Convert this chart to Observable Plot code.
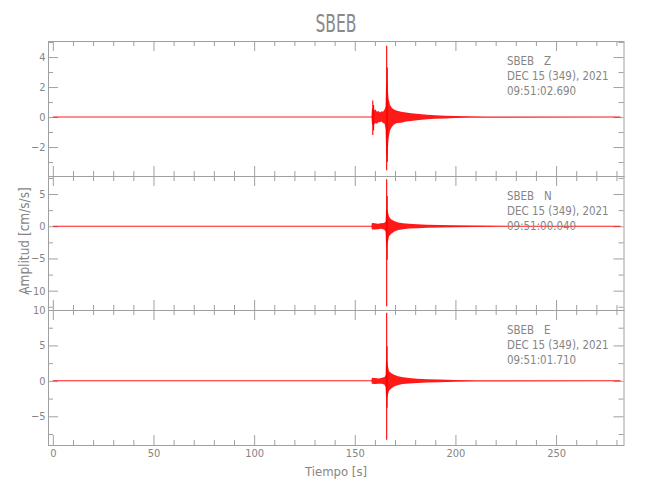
<!DOCTYPE html>
<html><head><meta charset="utf-8">
<script src="https://cdn.jsdelivr.net/npm/d3@7"></script>
<script src="https://cdn.jsdelivr.net/npm/@observablehq/plot@0.6"></script>
<style>
body{margin:0;background:#fff;}
#chart{position:relative;width:650px;height:500px;font-family:"DejaVu Sans Condensed","Liberation Sans Narrow",sans-serif;color:#858585;}
#chart svg{position:absolute;left:0;overflow:visible;}
.t{position:absolute;white-space:pre;}
</style></head><body><div id="chart"></div>
<script>
// ---- data ----
const title = "SBEB";
const xTitle = "Tiempo [s]";
const yTitle = "Amplitud [cm/s/s]";
const xDomain = [-2.4, 283.5];
const xMajor = [0, 50, 100, 150, 200, 250];
const xMinor = [10, 20, 30, 40, 60, 70, 80, 90, 110, 120, 130, 140, 160, 170, 180, 190, 210, 220, 230, 240, 260, 270, 280];

const components = ["Z", "N", "E"];
const dateLine = "DEC 15 (349), 2021";
const startTimes = ["09:51:02.690", "09:51:00.040", "09:51:01.710"];

// Z component envelope
const zT  = [0, 158.3, 158.5, 159.0, 159.6, 160.3, 161.0, 161.8, 162.5, 163.3, 164.0, 164.8, 165.3, 165.6, 166.2, 166.8, 167.5, 168.5, 169.5, 171, 173, 175.5, 178, 182, 186, 190, 195, 200, 207, 215, 282];
const zHi = [0.035, 0.035, 0.5, 0.6, 0.45, 0.5, 0.35, 0.4, 0.3, 0.38, 0.35, 0.5, 0.7, 2.6, 2.2, 1.2, 0.8, 0.6, 0.5, 0.42, 0.35, 0.3, 0.25, 0.2, 0.16, 0.12, 0.09, 0.07, 0.05, 0.04, 0.035];
const zLo = [-0.035, -0.035, -0.45, -0.55, -0.5, -0.4, -0.45, -0.35, -0.35, -0.3, -0.4, -0.45, -0.8, -2.4, -2.6, -1.4, -0.9, -0.65, -0.5, -0.4, -0.38, -0.3, -0.27, -0.2, -0.15, -0.12, -0.09, -0.07, -0.05, -0.04, -0.035];
const zSpikeT  = [158.7, 159.1, 165.6, 165.9];
const zSpikeHi = [1.1, 0.8, 4.75, 3.3];
const zSpikeLo = [-1.2, -0.9, -3.55, -3.0];

// N component envelope
const nT  = [0, 158.3, 158.5, 160, 161.5, 163, 164.5, 165.3, 165.6, 166.3, 167, 168, 169.5, 171.5, 174, 177, 181, 186, 192, 200, 210, 282];
const nHi = [0.08, 0.08, 0.5, 0.45, 0.4, 0.45, 0.5, 0.7, 3.0, 2.4, 1.5, 1.1, 0.8, 0.6, 0.45, 0.38, 0.3, 0.24, 0.18, 0.14, 0.1, 0.08];
const nLo = [-0.08, -0.08, -0.5, -0.5, -0.45, -0.4, -0.5, -0.8, -3.3, -2.6, -1.6, -1.2, -0.85, -0.6, -0.45, -0.36, -0.3, -0.24, -0.18, -0.14, -0.1, -0.08];
const nSpikeT  = [165.6, 165.85];
const nSpikeHi = [7.3, 4.7];
const nSpikeLo = [-12.4, -5.2];

// E component envelope
const eT  = [0, 158.3, 158.5, 160, 162, 163.5, 164.8, 165.3, 165.6, 166.2, 167, 168, 169.5, 171.5, 174, 177, 181, 186, 192, 200, 210, 282];
const eHi = [0.07, 0.07, 0.45, 0.4, 0.35, 0.45, 0.55, 0.8, 3.5, 2.5, 1.4, 1.1, 0.85, 0.65, 0.5, 0.4, 0.3, 0.24, 0.18, 0.13, 0.09, 0.07];
const eLo = [-0.07, -0.07, -0.4, -0.45, -0.4, -0.4, -0.55, -0.9, -2.8, -2.2, -1.4, -1.1, -0.8, -0.6, -0.45, -0.38, -0.3, -0.24, -0.18, -0.13, -0.09, -0.07];
const eSpikeT  = [165.6, 165.8];
const eSpikeHi = [9.6, 4.9];
const eSpikeLo = [-8.3, -3.8];

// y axes
const zYDomain = [-3.93, 5.07], zYMajor = [-2, 0, 2, 4], zYMinor = [-3, -1, 1, 3, 5];
const nYDomain = [-13.0, 7.8], nYMajor = [-10, -5, 0, 5], nYMinor = [-12.5, -7.5, -2.5, 2.5, 7.5];
const eYDomain = [-9.05, 10.0], eYMajor = [-5, 0, 5, 10], eYMinor = [-7.5, -2.5, 2.5, 7.5];

// ---- drawing ----
const RED = "#ff0000", FR = "#a0a0a0";
const W = 650, ML = 48, MR = 26.5, IW = W - ML - MR;
const chart = document.getElementById("chart");
const zip = (t, hi, lo) => t.map((v, i) => ({t: v, hi: hi[i], lo: lo[i]}));

const panels = [
  {top: 41, ih: 135, env: zip(zT, zHi, zLo), spikes: zip(zSpikeT, zSpikeHi, zSpikeLo), yd: zYDomain, yM: zYMajor, ym: zYMinor},
  {top: 176, ih: 134, env: zip(nT, nHi, nLo), spikes: zip(nSpikeT, nSpikeHi, nSpikeLo), yd: nYDomain, yM: nYMajor, ym: nYMinor},
  {top: 310, ih: 135, env: zip(eT, eHi, eLo), spikes: zip(eSpikeT, eSpikeHi, eSpikeLo), yd: eYDomain, yM: eYMajor, ym: eYMinor, last: true}
];

panels.forEach((p, i) => {
  const mt = 15, mb = p.last ? 40 : 15;
  const svg = Plot.plot({
    width: W, height: p.ih + mt + mb,
    marginLeft: ML, marginRight: MR, marginTop: mt, marginBottom: mb,
    x: {domain: xDomain, axis: null},
    y: {domain: p.yd, axis: null},
    style: {background: "transparent", color: "#858585", fontSize: "11px", fontFamily: "'DejaVu Sans Condensed','Liberation Sans Narrow',sans-serif"},
    marks: [
      Plot.ruleX(xMajor, {x: d => d, insetBottom: p.ih - 10, stroke: FR}),
      Plot.ruleX(xMajor, {x: d => d, insetTop: p.ih - 10, stroke: FR}),
      Plot.ruleX(xMinor, {x: d => d, insetBottom: p.ih - 5, stroke: FR}),
      Plot.ruleX(xMinor, {x: d => d, insetTop: p.ih - 5, stroke: FR}),
      Plot.ruleY(p.yM, {y: d => d, insetRight: IW - 10, stroke: FR}),
      Plot.ruleY(p.yM, {y: d => d, insetLeft: IW - 10, stroke: FR}),
      Plot.ruleY(p.ym, {y: d => d, insetRight: IW - 5, stroke: FR}),
      Plot.ruleY(p.ym, {y: d => d, insetLeft: IW - 5, stroke: FR}),
      Plot.areaY(p.env, {x: "t", y1: "lo", y2: "hi", fill: RED, fillOpacity: 0.9}),
      Plot.ruleX(p.spikes, {x: "t", y1: "lo", y2: "hi", stroke: RED, strokeWidth: 1.1}),
      Plot.frame({stroke: FR}),
      Plot.axisY(p.yM, {tickSize: 0, tickPadding: 3, label: null}),
      p.last ? Plot.axisX(xMajor, {tickSize: 0, tickPadding: 4, label: null}) : null
    ]
  });
  svg.style.top = (p.top - mt) + "px";
  chart.appendChild(svg);

  const ann = document.createElement("div");
  ann.className = "t";
  ann.style.cssText = `left:507px;top:${p.top + 12}px;font-size:13px;line-height:15px;transform:scaleX(0.88);transform-origin:0 0;`;
  ann.textContent = `SBEB   ${components[i]}\n${dateLine}\n${startTimes[i]}`;
  chart.appendChild(ann);
});

const tt = document.createElement("div");
tt.className = "t";
tt.style.cssText = "left:335.5px;top:24px;font-size:24px;transform:translate(-50%,-50%) scaleX(0.72);color:#8a8a8a;";
tt.textContent = title;
chart.appendChild(tt);

const xt = document.createElement("div");
xt.className = "t";
xt.style.cssText = "left:336px;top:471px;font-size:13px;transform:translate(-50%,-50%);";
xt.textContent = xTitle;
chart.appendChild(xt);

const yt = document.createElement("div");
yt.className = "t";
yt.style.cssText = "left:24px;top:241px;font-size:13.5px;transform:translate(-50%,-50%) rotate(-90deg);";
yt.textContent = yTitle;
chart.appendChild(yt);
</script>
</body></html>
